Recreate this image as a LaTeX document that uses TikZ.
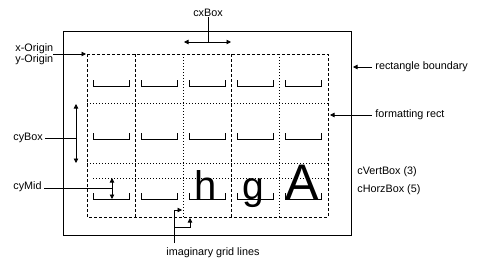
\documentclass[tikz,border=0pt]{standalone}
\usepackage{fontspec}
\setmainfont{Liberation Sans}
\usetikzlibrary{arrows.meta}
\begin{document}
\begin{tikzpicture}[x=1pt,y=-1pt,line width=0.8pt,
  lbl/.style={font=\fontsize{10.8}{12}\selectfont,inner sep=0pt,anchor=west},
  big/.style={inner sep=0pt,anchor=base},
  arr/.style={-{Triangle[length=4.5pt,width=4.5pt]}},
  darr/.style={{Triangle[length=4.5pt,width=4.5pt]}-{Triangle[length=4.5pt,width=4.5pt]}},
  dsh/.style={dash pattern=on 3pt off 2pt},
  gdot/.style={dash pattern=on 1pt off 2pt},
  brk/.style={line width=0.9pt}]
\useasboundingbox[fill=white] (0,0) rectangle (478,265);
% outer rectangle boundary
\draw (63,31) rectangle (351,235);
% grid lines
\foreach \x in {135,231} \draw[dsh] (\x,54) -- (\x,217);
\foreach \x in {183,279} \draw[gdot] (\x,54) -- (\x,217);
\foreach \y in {103,163} \draw[gdot] (87,\y) -- (328,\y);
\draw[gdot] (93,178) -- (328,178);
% formatting rect
\draw[dsh] (87,54) rectangle (328,217);
% brackets
\foreach \c in {87,135,183,231,279}
  \foreach \y in {86,139,199}
    \draw[brk] (\c+6,\y-6) |- (\c+42,\y) -- (\c+42,\y-6);
% letters
\node[big,font=\fontsize{40}{40}\selectfont] (h) at (206,199) {h};
\node[big,font=\fontsize{39}{40}\selectfont] (g) at (253,199) {g};
\node[big,font=\fontsize{50}{50}\selectfont] (A) at (302,199) {A};
% labels
\node[lbl,anchor=center] (cx) at (208,13) {cxBox};
\node[lbl] (xo) at (15,49) {x-Origin};
\node[lbl] (yo) at (15,60) {y-Origin};
\node[lbl] (cy) at (13,138) {cyBox};
\node[lbl] (cm) at (13,187) {cyMid};
\node[lbl] (rb) at (375,67) {rectangle boundary};
\node[lbl] (fr) at (375,115) {formatting rect};
\node[lbl] (cv) at (357,172) {cVertBox (3)};
\node[lbl] (ch) at (357,190) {cHorzBox (5)};
\node[lbl] (ig) at (166,253) {imaginary grid lines};
% coordinates
\coordinate (cxl) at (184,42);
\coordinate (cxr) at (231,42);
\coordinate (cxj) at (208,42);
\coordinate (xos) at (53,54);
\coordinate (xot) at (86,54);
\coordinate (cyt) at (76,104);
\coordinate (cyb) at (76,163);
\coordinate (cyj) at (76,138);
\coordinate (cmt) at (112,178);
\coordinate (cmb) at (112,199);
\coordinate (cmj) at (112,188);
\coordinate (rbs) at (372,67);
\coordinate (rbt) at (353,67);
\coordinate (frs) at (372,115);
\coordinate (frt) at (330,115);
\coordinate (igs) at (174,243);
\coordinate (igk) at (174,210);
\coordinate (igt) at (182,210);
\coordinate (igj) at (174,227);
\coordinate (igc) at (190,227);
\coordinate (igu) at (190,218);
% connectors
\draw (cx.south) -- (cxj);
\draw[darr] (cxl) -- (cxr);
\draw[arr] (xos) -- (xot);
\draw (cy.east) ++(2,0) -- (cyj);
\draw[darr] (cyt) -- (cyb);
\draw (cm.east) ++(2,1) -- (cmj);
\draw[darr] (cmt) -- (cmb);
\draw[arr] (rbs) -- (rbt);
\draw[arr] (frs) -- (frt);
\draw[arr] (igs) -- (igk) -- (igt);
\draw[arr] (igj) -- (igc) -- (igu);
\end{tikzpicture}
\end{document}
